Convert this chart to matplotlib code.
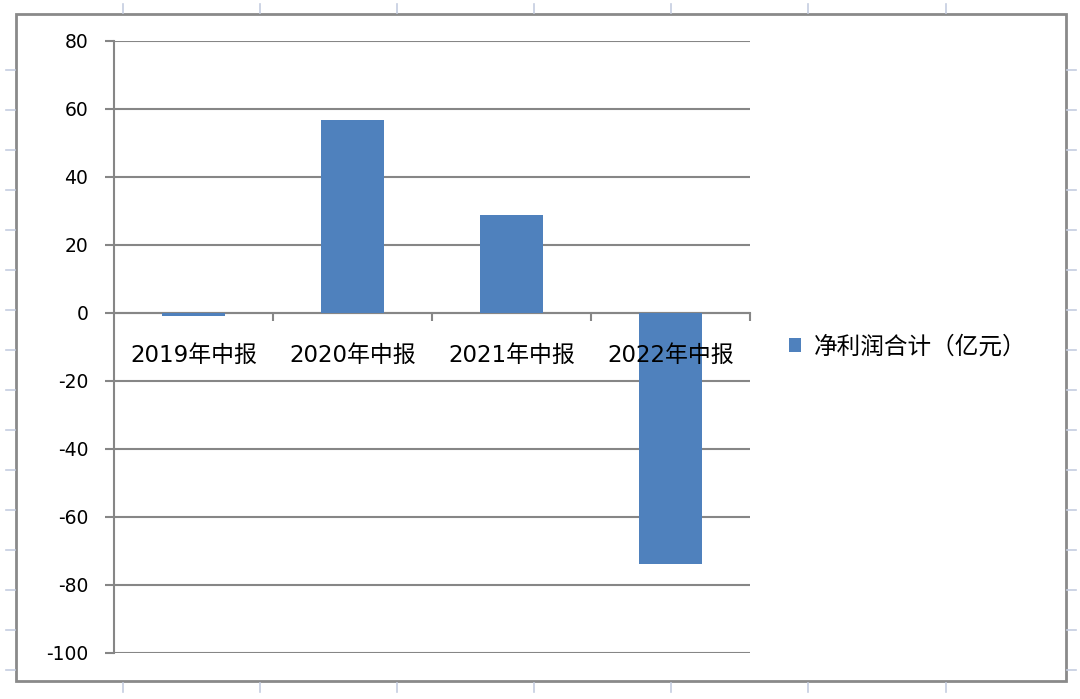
import matplotlib
matplotlib.use('Agg')
import matplotlib.pyplot as plt
from matplotlib.lines import Line2D
from matplotlib.patches import Rectangle

plt.rcParams['font.family'] = ['DejaVu Sans', 'Noto Sans CJK SC']

# data
periods = ['2019年中报', '2020年中报', '2021年中报', '2022年中报']
net_profit = [-0.9, 56.9, 28.9, -73.7]
series_name = '净利润合计（亿元）'
y_ticks = [80, 60, 40, 20, 0, -20, -40, -60, -80, -100]

W, H = 1080, 699
fig = plt.figure(figsize=(W / 100, H / 100), dpi=100)
fig.patch.set_facecolor('white')

def fx(px):
    return px / W

def fy(py):
    return 1 - py / H

# faint spreadsheet grid marks outside the chart
sheet_col = '#c5cde0'
for x in [123, 260, 397, 534, 671, 808, 946]:
    fig.add_artist(Line2D([fx(x), fx(x)], [fy(4), fy(13)], color=sheet_col, lw=1.2))
    fig.add_artist(Line2D([fx(x), fx(x)], [fy(683), fy(692)], color=sheet_col, lw=1.2))
for y in range(70, 680, 40):
    fig.add_artist(Line2D([fx(6), fx(15)], [fy(y), fy(y)], color=sheet_col, lw=1.2))
    fig.add_artist(Line2D([fx(1067), fx(1076)], [fy(y), fy(y)], color=sheet_col, lw=1.2))

# chart border
fig.add_artist(Rectangle((fx(16), fy(681)), fx(1066) - fx(16), fy(14) - fy(681),
                         fill=False, edgecolor='#8a8a8a', lw=2))

ax = fig.add_axes([fx(114), fy(653), fx(750) - fx(114), fy(41) - fy(653)])
ax.set_facecolor('none')
grid_col = '#868686'

x = list(range(len(periods)))
ax.bar(x, net_profit, width=0.4, color='#4f81bd', label=series_name, zorder=3)

ax.set_xlim(-0.5, len(periods) - 0.5)
ax.set_ylim(-100, 80)
ax.set_yticks(y_ticks)
ax.set_yticklabels([str(v) for v in y_ticks])
ax.yaxis.grid(True, color=grid_col, lw=1.5)
ax.yaxis.set_zorder(0)
ax.tick_params(axis='y', length=6.5, width=1.5, color=grid_col, pad=12,
               labelsize=13.5, labelcolor='black')

for s in ['top', 'right']:
    ax.spines[s].set_visible(False)
ax.spines['left'].set_color(grid_col)
ax.spines['left'].set_linewidth(1.5)
ax.spines['bottom'].set_position(('data', 0))
ax.spines['bottom'].set_color(grid_col)
ax.spines['bottom'].set_linewidth(1.5)
ax.spines['bottom'].set_zorder(2)

ax.set_xticks(x)
ax.set_xticklabels(periods)
ax.set_xticks([i + 0.5 for i in x], minor=True)
ax.tick_params(axis='x', which='major', length=0, pad=22, labelsize=16.5)
ax.tick_params(axis='x', which='minor', length=5.5, width=1.5, color=grid_col)
ax.xaxis.set_zorder(5)

fig.legend(loc='center left', bbox_to_anchor=(fx(780), fy(347)), frameon=False,
           handlelength=0.5, handleheight=0.5, handletextpad=0.55,
           prop={'family': ['Noto Sans CJK SC'], 'size': 17}, borderaxespad=0)

fig.savefig('out.png', dpi=100, facecolor='white')
